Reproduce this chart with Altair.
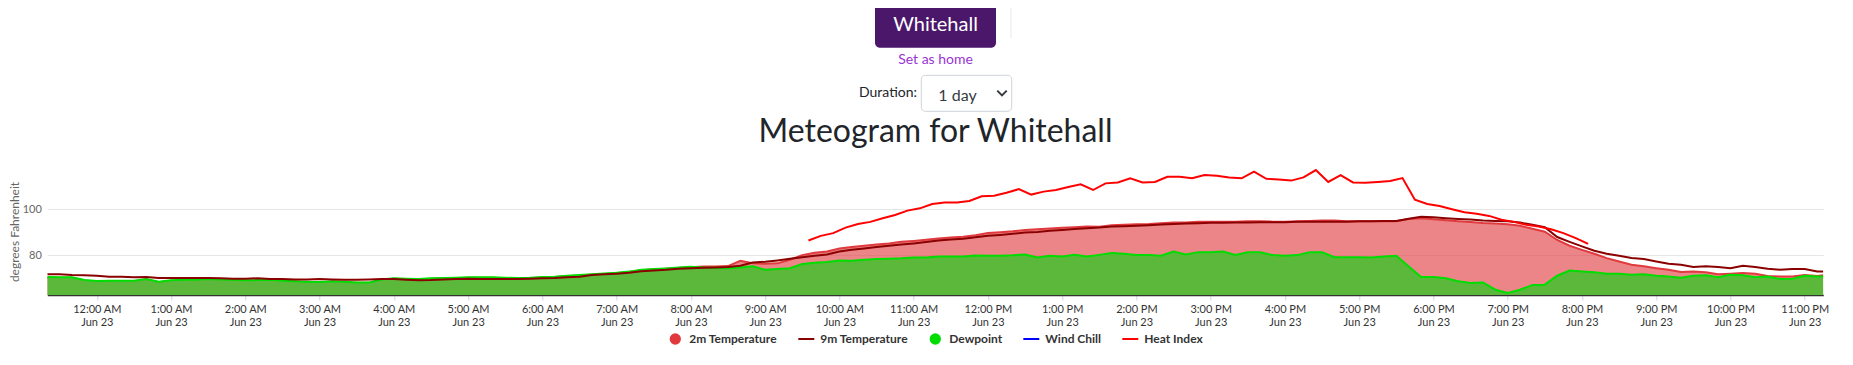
import altair as alt
import pandas as pd

# ---------------- data ----------------
names = ["2m Temperature", "9m Temperature", "Dewpoint", "Wind Chill", "Heat Index"]
colors = ["#e03a3e", "#8b0000", "#00dd00", "#0000ff", "#ff0000"]

# 10-minute observations from 23:20 Jun 22 to 23:10 Jun 23, plus 23:15
t9 = [71.6, 71.7, 71.3, 71.2, 71.0, 70.6, 70.6, 70.3, 70.4, 70.0,
      70.0, 70.0, 70.0, 70.0, 69.9, 69.7, 69.7, 69.9, 69.6, 69.6,
      69.4, 69.4, 69.6, 69.4, 69.3, 69.3, 69.4, 69.6, 69.6, 69.3,
      69.0, 69.1, 69.4, 69.6, 69.7, 69.6, 69.6, 69.6, 69.6, 69.7,
      69.9, 70.0, 70.3, 70.6, 71.3, 71.6, 71.9, 72.3, 73.0, 73.3,
      73.6, 74.1, 74.3, 74.5, 74.6, 74.8, 75.4, 76.8, 77.1, 77.7,
      78.4, 79.1, 79.7, 80.3, 81.6, 82.3, 82.9, 83.5, 84.1, 84.6,
      85.1, 85.7, 86.4, 86.8, 87.1, 87.8, 88.4, 88.8, 89.3, 89.9,
      90.1, 90.6, 91.0, 91.4, 91.7, 92.0, 92.5, 92.6, 92.8, 93.0,
      93.3, 93.6, 93.8, 93.9, 94.1, 94.1, 94.2, 94.2, 94.3, 94.3,
      94.3, 94.5, 94.5, 94.6, 94.6, 94.6, 94.8, 94.8, 94.9, 94.9,
      95.9, 96.7, 96.5, 96.1, 95.8, 95.5, 95.1, 94.9, 94.8, 94.2,
      93.2, 92.2, 87.9, 85.8, 83.8, 81.9, 80.6, 79.7, 78.7, 78.3,
      77.2, 76.2, 75.8, 74.8, 75.1, 74.8, 74.3, 75.4, 74.8, 74.1,
      73.6, 73.9, 73.9, 72.9, 72.9]

t2 = [70.2, 70.1, 70.1, 68.9, 68.5, 68.6, 68.6, 68.6, 69.4, 68.2,
      68.8, 69.1, 69.1, 69.4, 69.2, 69.1, 68.8, 68.9, 69.1, 68.6,
      68.4, 68.2, 68.1, 68.4, 68.2, 67.9, 67.9, 69.2, 69.7, 69.5,
      69.4, 69.7, 69.8, 69.9, 70.1, 70.1, 70.1, 69.9, 69.8, 69.9,
      70.2, 70.4, 70.8, 71.1, 71.4, 71.8, 72.1, 72.6, 73.4, 73.7,
      74.0, 74.4, 74.7, 75.0, 75.0, 75.2, 77.5, 76.5, 76.2, 76.4,
      78.0, 80.0, 81.0, 81.6, 82.9, 83.5, 84.1, 84.6, 85.1, 85.8,
      86.2, 86.7, 87.2, 87.7, 88.0, 88.7, 89.6, 90.0, 90.4, 91.0,
      91.3, 91.6, 91.9, 92.2, 92.5, 92.4, 93.0, 93.2, 93.5, 93.6,
      93.9, 94.2, 94.2, 94.5, 94.5, 94.6, 94.6, 94.8, 94.8, 94.6,
      94.6, 94.8, 94.9, 95.1, 95.1, 94.8, 94.8, 94.8, 94.8, 94.8,
      95.8, 96.1, 95.6, 95.2, 94.8, 94.4, 94.0, 93.8, 93.5, 92.8,
      91.5, 90.2, 86.6, 84.1, 82.3, 80.6, 78.7, 77.2, 75.8, 75.1,
      74.3, 73.6, 72.6, 72.9, 72.5, 71.7, 71.9, 72.2, 71.9, 70.9,
      70.7, 70.7, 71.3, 70.9, 71.2]

dewpoint = [70.4, 70.3, 70.3, 69.1, 68.7, 68.8, 68.8, 68.8, 69.6, 68.4,
            69.0, 69.3, 69.3, 69.6, 69.4, 69.3, 69.0, 69.1, 69.3, 68.8,
            68.6, 68.4, 68.3, 68.6, 68.4, 68.1, 68.1, 69.4, 69.9, 69.7,
            69.6, 69.9, 70.0, 70.1, 70.3, 70.3, 70.3, 70.1, 70.0, 70.1,
            70.4, 70.6, 71.0, 71.3, 71.6, 72.0, 72.3, 72.8, 73.6, 73.9,
            74.2, 74.6, 74.9, 74.6, 74.5, 74.3, 74.6, 75.1, 73.6, 73.9,
            74.3, 76.1, 76.7, 77.0, 77.7, 77.5, 78.0, 78.3, 78.4, 78.6,
            79.0, 79.0, 79.4, 79.4, 79.4, 79.8, 79.7, 79.7, 79.9, 80.3,
            79.0, 79.7, 79.4, 80.1, 79.4, 80.1, 80.9, 80.6, 80.1, 80.0,
            79.7, 81.6, 80.3, 81.3, 81.3, 81.6, 80.1, 81.2, 81.2, 80.0,
            79.7, 80.0, 81.2, 81.2, 79.1, 79.1, 79.1, 79.0, 79.4, 79.7,
            75.0, 70.4, 70.4, 69.9, 68.6, 67.8, 68.1, 64.9, 63.5, 64.9,
            67.0, 67.1, 71.0, 73.3, 72.9, 72.5, 71.9, 71.9, 71.4, 71.7,
            71.0, 70.7, 70.1, 71.0, 71.2, 70.3, 71.4, 71.2, 70.3, 70.7,
            69.6, 69.7, 71.0, 70.7, 70.7]

# heat index, every 10 minutes from 09:35 to 20:05 Jun 23
heat_index = [86.4, 88.4, 89.6, 92.0, 93.6, 94.5, 96.1, 97.5, 99.4, 100.4,
              102.3, 103.0, 103.0, 103.6, 105.7, 105.9, 107.2, 108.8, 106.4, 107.7,
              108.4, 109.7, 110.9, 108.4, 111.3, 111.7, 113.5, 111.7, 111.9, 114.2,
              114.2, 113.5, 114.9, 114.6, 113.9, 113.5, 116.4, 113.3, 113.0, 112.5,
              113.9, 117.1, 111.9, 114.9, 111.7, 111.6, 111.9, 112.3, 113.6, 104.2,
              102.3, 101.4, 100.0, 98.7, 98.0, 97.1, 95.4, 94.5, 93.2, 92.5,
              91.3, 89.6, 87.4, 84.9]

times = list(pd.date_range("2024-06-22 23:20", periods=144, freq="10min")) + [pd.Timestamp("2024-06-23 23:15")]
hi_times = list(pd.date_range("2024-06-23 09:35", periods=64, freq="10min"))

fmt = "%Y-%m-%dT%H:%M:%S"
main = pd.DataFrame({"time": [t.strftime(fmt) for t in times], "t2": t2, "t9": t9, "dp": dewpoint})
hi = pd.DataFrame({"time": [t.strftime(fmt) for t in hi_times], "hi": heat_index})

# ---------------- scales / axes ----------------
FONT = "Lato"
x_scale = alt.Scale(domain=[alt.DateTime(year=2024, month=6, date=22, hours=23, minutes=20),
                            alt.DateTime(year=2024, month=6, date=23, hours=23, minutes=15)])
x_axis = alt.Axis(
    title=None,
    values=[alt.DateTime(year=2024, month=6, date=23, hours=h) for h in range(24)],
    labelExpr="[timeFormat(datum.value, '%-I:%M %p'), timeFormat(datum.value, '%b %-d')]",
    grid=False, domainColor="#333333", domainWidth=1.5,
    tickColor="#ccd6eb", tickSize=5, labelPadding=4,
    labelFont=FONT, labelFontSize=11, labelColor="#333333", labelLineHeight=13,
    labelOverlap=False, labelFlush=False,
)
y_scale = alt.Scale(domain=[62.6, 118], nice=False, zero=False)
y_axis = alt.Axis(
    values=[80, 100], title="degrees Fahrenheit",
    titleFont=FONT, titleFontSize=12, titleFontWeight="normal", titleColor="#666666",
    titleX=-26, titleY=63.5, titleBaseline="bottom", titleAngle=270,
    labelFont=FONT, labelFontSize=11, labelColor="#666666", labelPadding=6,
    ticks=False, domain=False, gridColor="#e6e6e6",
)

def X():
    return alt.X("time:T", scale=x_scale, axis=x_axis)

def Y(field):
    return alt.Y(field, type="quantitative", scale=y_scale, axis=y_axis)

base = alt.Chart(main)
area2m = base.mark_area(color="#e03a3e", opacity=0.62, clip=True,
                        line={"color": "#e03a3e", "strokeWidth": 2}).encode(x=X(), y=Y("t2"))
areadp = base.mark_area(color="#5cb83a", opacity=1, clip=True,
                        line={"color": "#00dd00", "strokeWidth": 2}).encode(x=X(), y=Y("dp"))
line9m = base.mark_line(color="#8b0000", strokeWidth=2, clip=True).encode(x=X(), y=Y("t9"))
linehi = alt.Chart(hi).mark_line(color="#ff0000", strokeWidth=2, clip=True).encode(x=X(), y=Y("hi"))

# ---------------- legend ----------------
line_shape = "M-1.41,-0.18H1.41V0.18H-1.41Z"
shapes = ["circle", line_shape, "circle", line_shape, line_shape]
leg_props = dict(title=None, orient="none", legendX=622, legendY=165, direction="horizontal",
                 columns=5, symbolSize=128, labelFont=FONT, labelFontSize=12, labelFontWeight="bold",
                 labelColor="#333333", labelOffset=8, columnPadding=21, padding=0,
                 symbolStrokeWidth=0, symbolOpacity=1)
legend_layer = alt.Chart(pd.DataFrame({"series": names})).mark_point(filled=True, size=128, opacity=1).encode(
    x=alt.value(-3000), y=alt.value(-3000),
    color=alt.Color("series:N", scale=alt.Scale(domain=names, range=colors), legend=alt.Legend(**leg_props)),
    shape=alt.Shape("series:N", scale=alt.Scale(domain=names, range=shapes), legend=alt.Legend(**leg_props)),
)

# ---------------- page header ----------------
one = pd.DataFrame({"a": [0]})
hdr = alt.Chart(one)
button = hdr.mark_rect(color="#4a176b", cornerRadiusBottomLeft=5, cornerRadiusBottomRight=5).encode(
    x=alt.value(827.7), x2=alt.value(948.7), y=alt.value(-175), y2=alt.value(-120.3))
button_txt = hdr.mark_text(text="Whitehall", font=FONT, fontSize=20, color="#ffffff",
                           align="center", baseline="middle").encode(x=alt.value(888.2), y=alt.value(-143))
sep = hdr.mark_rule(color="#e9e9e9", strokeWidth=1).encode(
    x=alt.value(963.7), y=alt.value(-175), y2=alt.value(-130))
home = hdr.mark_text(text="Set as home", font=FONT, fontSize=14, color="#9a33d6",
                     align="center", baseline="middle").encode(x=alt.value(888.2), y=alt.value(-107.7))
dur = hdr.mark_text(text="Duration:", font=FONT, fontSize=14, color="#212529",
                    align="right", baseline="middle").encode(x=alt.value(869.7), y=alt.value(-74.7))
select_box = hdr.mark_rect(fill="#ffffff", stroke="#ced4da", strokeWidth=1, cornerRadius=4).encode(
    x=alt.value(874), x2=alt.value(964.4), y=alt.value(-92.7), y2=alt.value(-56.7))
select_txt = hdr.mark_text(text="1 day", font=FONT, fontSize=16, color="#343a40",
                           align="center", baseline="middle").encode(x=alt.value(910.2), y=alt.value(-72.3))
chevron = hdr.mark_point(shape="M-1,-0.5L0,0.5L1,-0.5", filled=False, color="#343a40",
                         strokeWidth=2, size=90, opacity=1).encode(x=alt.value(954.7), y=alt.value(-75))
title = hdr.mark_text(text="Meteogram for Whitehall", font=FONT, fontSize=32, color="#212529",
                      align="center", baseline="alphabetic").encode(x=alt.value(888.2), y=alt.value(-25.7))

chart = alt.layer(
    area2m, areadp, line9m, linehi, legend_layer,
    button, button_txt, sep, home, dur, select_box, select_txt, chevron, title,
).properties(
    width=1776, height=127,
    autosize=alt.AutoSizeParams(type="none"),
    padding={"left": 39.3, "top": 160, "right": 14, "bottom": 52},
).configure(background="#ffffff", view=alt.ViewConfig(stroke=None))

chart.save("out.html", embed_options={"renderer": "svg", "actions": False})
